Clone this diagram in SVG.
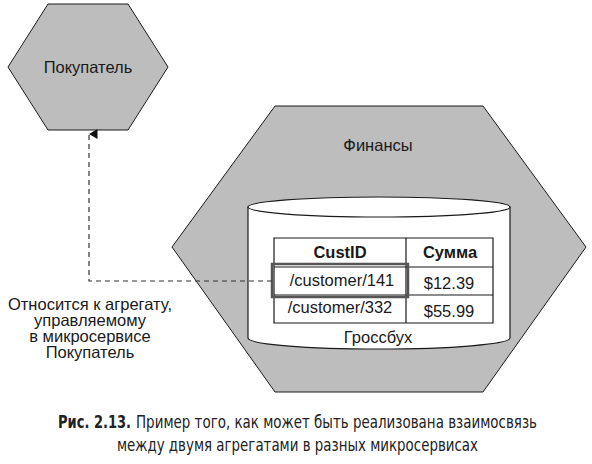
<svg xmlns="http://www.w3.org/2000/svg" width="592" height="464" viewBox="0 0 592 464">
<defs>
<style>
.hex{fill:#bdbdbd;stroke:#1a1a1a;stroke-width:1}
.t{font-family:"Liberation Sans",Arial,sans-serif;fill:#1a1a1a;text-anchor:middle}
.lbl{font-size:16.5px}
.cell{font-size:16.5px}
.hd{font-size:16.5px;font-weight:bold}
.cyl{fill:#fff;stroke:#1a1a1a;stroke-width:1.2}
.grid{fill:none;stroke:#1a1a1a;stroke-width:1.2}
.conn{fill:none;stroke:#333;stroke-width:1.2;stroke-dasharray:5 4}
.cap{font-family:"Liberation Sans Narrow","DejaVu Sans Condensed","Roboto Condensed",sans-serif;font-size:18px;fill:#222}
</style>
<marker id="arr" markerWidth="10" markerHeight="10" refX="5" refY="0.5" orient="auto" markerUnits="userSpaceOnUse" viewBox="0 0 10 10">
<path d="M0,9 L5,0.5 L10,9 Z" fill="#111"/>
</marker>
</defs>
<g id="pokupatel">
<polygon class="hex" points="48,4 128,4 168,67 128,130 48,130 8,67"/>
<text class="t lbl" x="88" y="73">Покупатель</text>
</g>
<g id="finansy">
<polygon class="hex" points="275,106 483,106 586,247 483,392 275,392 172,247"/>
<text class="t lbl" x="378" y="151">Финансы</text>
</g>
<g id="grossbukh">
<path class="cyl" d="M248,207 L248,338 A131,11 0 0 0 510,338 L510,207 Z"/>
<ellipse class="cyl" cx="379" cy="207" rx="131" ry="10"/>
<rect x="274" y="238" width="219" height="85" fill="#fff" stroke="none"/>
<path class="grid" d="M274,238 H493 V323 H274 Z M274,267 H493 M274,295 H493 M406,238 V323"/>
<rect x="272" y="264" width="136" height="33" fill="none" stroke="#555" stroke-width="2.5"/>
<text class="t hd" x="340" y="258">CustID</text>
<text class="t hd" x="450" y="258">Сумма</text>
<text class="t cell" x="342" y="286">/customer/141</text>
<text class="t cell" x="449" y="289">$12.39</text>
<text class="t cell" x="340" y="313">/customer/332</text>
<text class="t cell" x="449" y="317">$55.99</text>
<text class="t lbl" x="378" y="343">Гроссбух</text>
</g>
<g id="connectors">
<path class="conn" d="M272,281 H89 V134" marker-end="url(#arr)"/>
</g>
<g id="note">
<text class="t lbl" x="90" y="310">Относится к агрегату,</text>
<text class="t lbl" x="90" y="326">управляемому</text>
<text class="t lbl" x="90" y="342">в микросервисе</text>
<text class="t lbl" x="90" y="358">Покупатель</text>
</g>
<g id="caption">
<text class="cap" x="58" y="428" font-weight="bold" textLength="73" lengthAdjust="spacingAndGlyphs">Рис. 2.13.</text>
<text class="cap" x="136" y="428" textLength="401" lengthAdjust="spacingAndGlyphs">Пример того, как может быть реализована взаимосвязь</text>
<text class="cap" x="117" y="451" textLength="361" lengthAdjust="spacingAndGlyphs">между двумя агрегатами в разных микросервисах</text>
</g>
</svg>
